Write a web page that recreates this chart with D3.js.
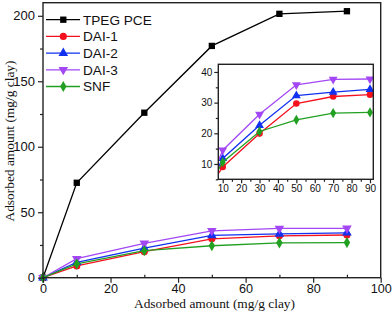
<!DOCTYPE html>
<html><head><meta charset="utf-8">
<script src="https://cdn.jsdelivr.net/npm/d3@7/dist/d3.min.js"></script>
<style>body{margin:0;background:#fff}svg{display:block}</style>
</head><body>
<svg id="c" width="392" height="313"></svg>
<script>
const xValues = [0, 10, 30, 50, 70, 90];
const seriesNames = ["TPEG PCE", "DAI-1", "DAI-2", "DAI-3", "SNF"];
const tpeg = [0, 72.5, 126, 177, 201.5, 203.5];
const dai1 = [0, 9.0, 19.9, 29.7, 32.0, 32.6];
const dai2 = [0, 11.8, 22.6, 32.3, 33.4, 34.3];
const dai3 = [0, 14.5, 26.2, 35.8, 37.6, 37.7];
const snf  = [0, 10.6, 20.6, 24.4, 26.6, 26.8];
const mainXTicks = [0, 20, 40, 60, 80, 100];
const mainYTicks = [0, 50, 100, 150, 200];
const insetXTicks = [10, 20, 30, 40, 50, 60, 70, 80, 90];
const insetYTicks = [10, 20, 30, 40];
const xTitle = "Adsorbed amount (mg/g clay)";
const yTitle = "Adsorbed amount (mg/g clay)";

const seriesData = [tpeg, dai1, dai2, dai3, snf];
const colors = ["#000000", "#f5101e", "#1230f0", "#a347f5", "#22a022"];
const symbols = [d3.symbolSquare, d3.symbolCircle, d3.symbolTriangle, "down", d3.symbolDiamond];

const svg = d3.select("#c");
const axisColor = "#222";
const sans = "Liberation Sans, Arial, sans-serif";

function symPath(i, size) {
  if (symbols[i] === "down") return d3.symbol().type(d3.symbolTriangle).size(size)();
  return d3.symbol().type(symbols[i]).size(i === 4 ? size * 0.9 : size)();
}
function symTransform(i, x, y) {
  return symbols[i] === "down" ? `translate(${x},${y}) rotate(180)` : `translate(${x},${y})`;
}

const x = d3.scaleLinear().domain([0, 100]).range([43, 380.7]);
const y = d3.scaleLinear().domain([0, 210]).range([277.7, 2.7]);

function drawAxes(g, xs, ys, o) {
  const [x0, x1] = xs.range();
  const [y0, y1] = ys.range();
  g.append("g").attr("transform", `translate(0,${y0})`)
    .call(d3.axisBottom(xs).tickValues(o.xminor).tickSize(o.xMinorLen).tickFormat(""))
    .call(a => a.select(".domain").remove());
  g.append("g").attr("transform", `translate(0,${y0})`)
    .call(d3.axisBottom(xs).tickValues(o.xt).tickSize(o.tickLen).tickPadding(o.padX))
    .call(a => a.select(".domain").remove())
    .call(a => a.selectAll("text").attr("font-size", o.fsX).attr("font-family", sans).attr("fill", "#111"));
  g.append("g").attr("transform", `translate(${x0},0)`)
    .call(d3.axisLeft(ys).tickValues(o.yminor).tickSize(o.yMinorLen).tickFormat(""))
    .call(a => a.select(".domain").remove());
  g.append("g").attr("transform", `translate(${x0},0)`)
    .call(d3.axisLeft(ys).tickValues(o.yt).tickSize(o.tickLen).tickPadding(o.padY))
    .call(a => a.select(".domain").remove())
    .call(a => a.selectAll("text").attr("font-size", o.fs).attr("font-family", sans).attr("fill", "#111"));
  g.selectAll(".tick line").attr("stroke", axisColor).attr("stroke-width", 1.2);
  g.append("rect").attr("x", x0).attr("y", y1).attr("width", x1 - x0).attr("height", y0 - y1)
    .attr("fill", "none").attr("stroke", axisColor).attr("stroke-width", 1.4);
}

function drawSeries(g, xs, ys, msize, clipId) {
  seriesData.forEach((vals, i) => {
    const pts = xValues.map((xv, j) => [xv, vals[j]]);
    const line = d3.line().x(d => xs(d[0])).y(d => ys(d[1]));
    const sg = g.append("g");
    if (clipId) sg.attr("clip-path", `url(#${clipId})`);
    sg.append("path").attr("d", line(pts)).attr("fill", "none")
      .attr("stroke", colors[i]).attr("stroke-width", 1.3);
    sg.selectAll("path.m").data(pts).enter().append("path").attr("class", "m")
      .attr("d", symPath(i, msize))
      .attr("transform", d => symTransform(i, xs(d[0]), ys(d[1])))
      .attr("fill", colors[i]);
  });
}

const mainG = svg.append("g");
drawSeries(mainG, x, y, 40, null);
drawAxes(mainG, x, y, {
  xt: mainXTicks, xminor: d3.range(10, 100, 20), yt: mainYTicks, yminor: d3.range(25, 210, 50),
  fs: 13, fsX: 12.6, tickLen: 5, xMinorLen: -3, yMinorLen: 3, padX: 1, padY: 3
});

// Legend
const lg = svg.append("g");
const legY0 = 19.7, legDy = 16.7;
seriesNames.forEach((name, i) => {
  const yy = legY0 + i * legDy;
  lg.append("line").attr("x1", 46).attr("x2", 80).attr("y1", yy).attr("y2", yy)
    .attr("stroke", colors[i]).attr("stroke-width", 1.3);
  lg.append("path").attr("d", symPath(i, 40)).attr("transform", symTransform(i, 63.3, yy)).attr("fill", colors[i]);
  lg.append("text").attr("x", 83).attr("y", yy).attr("dy", "0.36em")
    .attr("font-size", 13.6).attr("font-family", sans)
    .attr("fill", "#111").text(name);
});

// Axis titles
svg.append("text").attr("x", 214.5).attr("y", 307.5).attr("text-anchor", "middle")
  .attr("font-family", "Liberation Serif, Times New Roman, serif").attr("font-size", 13.4)
  .attr("fill", "#111").text(xTitle);
svg.append("text").attr("transform", "translate(14,141) rotate(-90)").attr("text-anchor", "middle")
  .attr("font-family", "Liberation Serif, Times New Roman, serif").attr("font-size", 13.4)
  .attr("fill", "#111").text(yTitle);

// Inset
const ix = d3.scaleLinear().domain([7.6, 91.8]).range([218.3, 373.3]);
const iy = d3.scaleLinear().domain([5, 42.5]).range([179.3, 64.3]);
const ig = svg.append("g");
ig.append("rect").attr("x", 218.3).attr("y", 64.3).attr("width", 155).attr("height", 115).attr("fill", "#fff");
svg.append("defs").append("clipPath").attr("id", "insetClip").append("rect")
  .attr("x", 218.3).attr("y", 64.3).attr("width", 155).attr("height", 115);
drawSeries(ig, ix, iy, 34, "insetClip");
drawAxes(ig, ix, iy, {
  xt: insetXTicks, xminor: d3.range(15, 90, 10), yt: insetYTicks, yminor: d3.range(5, 42, 10),
  fs: 10, fsX: 10, tickLen: 4, xMinorLen: 2.5, yMinorLen: 2.5, padX: 2, padY: 2
});
</script>
</body></html>
